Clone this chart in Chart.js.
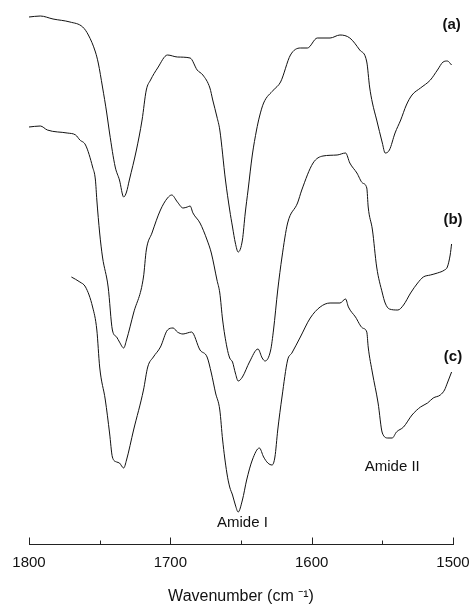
<!DOCTYPE html>
<html>
<head>
<meta charset="utf-8">
<script src="https://cdn.jsdelivr.net/npm/chart.js@4/dist/chart.umd.min.js"></script>
<style>
  html, body { margin: 0; padding: 0; background: #fff; }
  #wrap { width: 473px; height: 606px; position: relative; }
</style>
</head>
<body>
<div id="wrap"><canvas id="c"></canvas></div>
<script>
// Wavenumbers (cm-1) and offset intensities (a.u.)
const wavenumA = [1800,1792,1783,1771,1762,1758,1753,1751,1748,1745,1743,1739,1736,1733,1731,1729,1724,1720,1717,1714,1709,1702,1695,1686,1681,1677,1672,1670,1667,1665,1661,1658,1656,1654,1652,1649,1647,1645,1642,1639,1637,1634,1627,1622,1615,1608,1603,1596,1587,1580,1573,1566,1561,1559,1557,1554,1550,1548,1545,1541,1537,1533,1529,1523,1516,1511,1507,1504,1501];
const valuesA  = [5.27,5.28,5.25,5.22,5.17,5.09,4.92,4.81,4.57,4.31,4.11,3.77,3.64,3.47,3.52,3.64,3.94,4.24,4.54,4.64,4.76,4.89,4.87,4.86,4.74,4.69,4.56,4.44,4.27,4.14,3.64,3.34,3.17,3.01,2.92,3.04,3.31,3.54,3.89,4.14,4.27,4.41,4.54,4.62,4.89,4.96,4.96,5.06,5.06,5.09,5.06,4.94,4.82,4.57,4.41,4.24,4.01,3.91,3.94,4.11,4.24,4.39,4.49,4.56,4.64,4.74,4.82,4.83,4.79];

const wavenumB = [1800,1792,1787,1773,1767,1764,1760,1755,1753,1752,1750,1748,1744,1741,1738,1736,1733,1731,1726,1719,1717,1713,1707,1702,1699,1695,1691,1688,1686,1684,1679,1674,1671,1667,1665,1663,1660,1658,1656,1654,1652,1649,1644,1638,1635,1633,1629,1627,1624,1621,1617,1610,1607,1599,1592,1582,1576,1573,1568,1564,1561,1560,1557,1554,1550,1548,1545,1539,1535,1530,1525,1521,1516,1511,1506,1504,1502,1501];
const valuesB  = [4.17,4.18,4.14,4.11,4.09,4.04,3.99,3.77,3.64,3.44,3.11,2.87,2.57,2.14,2.07,2.02,1.96,2.04,2.31,2.67,2.94,3.11,3.34,3.46,3.49,3.42,3.36,3.37,3.38,3.31,3.21,3.04,2.91,2.64,2.51,2.24,1.97,1.86,1.82,1.71,1.63,1.67,1.82,1.95,1.86,1.83,1.94,2.14,2.54,2.87,3.21,3.41,3.54,3.81,3.88,3.89,3.91,3.81,3.71,3.61,3.56,3.37,3.14,2.77,2.51,2.41,2.35,2.34,2.39,2.51,2.61,2.67,2.69,2.71,2.74,2.77,2.89,3.00];

const wavenumC = [1770,1764,1760,1755,1752,1750,1746,1743,1741,1738,1736,1733,1731,1726,1719,1716,1712,1707,1702,1698,1695,1691,1688,1685,1679,1674,1671,1668,1665,1663,1660,1658,1656,1654,1652,1649,1646,1642,1637,1634,1631,1628,1626,1624,1621,1617,1614,1608,1601,1594,1587,1580,1576,1574,1569,1564,1561,1560,1557,1553,1550,1546,1543,1540,1535,1529,1523,1518,1514,1509,1506,1504,1501];
const valuesC  = [2.67,2.62,2.57,2.37,2.14,1.77,1.44,1.11,0.87,0.82,0.81,0.76,0.84,1.14,1.54,1.77,1.87,1.97,2.14,2.16,2.12,2.10,2.11,2.12,1.94,1.87,1.71,1.51,1.34,1.04,0.71,0.57,0.49,0.39,0.32,0.44,0.64,0.84,0.96,0.87,0.81,0.79,0.87,1.14,1.47,1.84,1.91,2.07,2.26,2.37,2.41,2.41,2.45,2.37,2.27,2.16,2.12,1.97,1.71,1.41,1.11,1.06,1.06,1.12,1.17,1.29,1.37,1.41,1.46,1.49,1.54,1.61,1.72];

const majorTicks = [1800, 1700, 1600, 1500];
const minorTicks = [1750, 1650, 1550];

// text annotations placed in data coordinates
const noteText = ['(a)', '(b)', '(c)', 'Amide II', 'Amide I'];
const noteWave = [1501, 1500, 1500, 1543, 1649];
const noteVal  = [5.19, 3.24, 1.87, 0.77, 0.21];
const noteBold = [true, true, true, false, false];

function pts(xs, ys) { return xs.map((x, i) => ({x: x, y: ys[i]})); }

const lineStyle = { borderColor: '#111', borderWidth: 1, pointRadius: 0, cubicInterpolationMode: 'monotone', fill: false };

const axisPlugin = {
  id: 'axisDecor',
  afterDraw(chart) {
    const ctx = chart.ctx;
    const xs = chart.scales.x, ys = chart.scales.y;
    const yAxis = chart.chartArea.bottom + 0.5;
    ctx.save();
    ctx.strokeStyle = '#222';
    ctx.lineWidth = 1;
    ctx.beginPath();
    majorTicks.forEach(v => {
      const px = Math.round(xs.getPixelForValue(v)) + 0.5;
      ctx.moveTo(px, yAxis); ctx.lineTo(px, yAxis - 7);
    });
    minorTicks.forEach(v => {
      const px = Math.round(xs.getPixelForValue(v)) + 0.5;
      ctx.moveTo(px, yAxis); ctx.lineTo(px, yAxis - 4);
    });
    ctx.stroke();
    ctx.fillStyle = '#111';
    ctx.textAlign = 'center';
    ctx.textBaseline = 'middle';
    noteText.forEach((t, i) => {
      ctx.font = (noteBold[i] ? 'bold 15px' : '15px') + ' "Liberation Sans", Arial, sans-serif';
      ctx.fillText(t, xs.getPixelForValue(noteWave[i]), ys.getPixelForValue(noteVal[i]));
    });
    ctx.restore();
  }
};

new Chart(document.getElementById('c'), {
  type: 'line',
  data: {
    datasets: [
      Object.assign({ label: '(a)', data: pts(wavenumA, valuesA) }, lineStyle),
      Object.assign({ label: '(b)', data: pts(wavenumB, valuesB) }, lineStyle),
      Object.assign({ label: '(c)', data: pts(wavenumC, valuesC) }, lineStyle)
    ]
  },
  options: {
    responsive: true,
    maintainAspectRatio: false,
    animation: false,
    layout: { padding: { left: 29, right: 20, top: 0, bottom: 0 } },
    plugins: { legend: { display: false }, tooltip: { enabled: false } },
    scales: {
      x: {
        type: 'linear',
        reverse: true,
        min: 1500, max: 1800,
        afterBuildTicks: (s) => { s.ticks = majorTicks.map(v => ({ value: v })); },
        afterFit: (s) => { s.height = 62; s.paddingLeft = 0; s.paddingRight = 0; },
        grid: { display: true, drawOnChartArea: false, drawTicks: true, tickLength: 7, tickColor: 'rgba(0,0,0,0)' },
        border: { display: true, color: '#222', width: 1 },
        ticks: {
          color: '#111', padding: 3, maxRotation: 0,
          callback: (v) => String(v),
          font: { family: '"Liberation Sans", Arial, sans-serif', size: 15 }
        },
        title: {
          display: true, text: 'Wavenumber (cm \u207B\u00B9)', color: '#111',
          padding: { top: 0, bottom: 0 },
          font: { family: '"Liberation Sans", Arial, sans-serif', size: 16 }
        }
      },
      y: { type: 'linear', display: false, min: 0, max: 5.44 }
    }
  },
  plugins: [axisPlugin]
});
</script>
</body>
</html>
